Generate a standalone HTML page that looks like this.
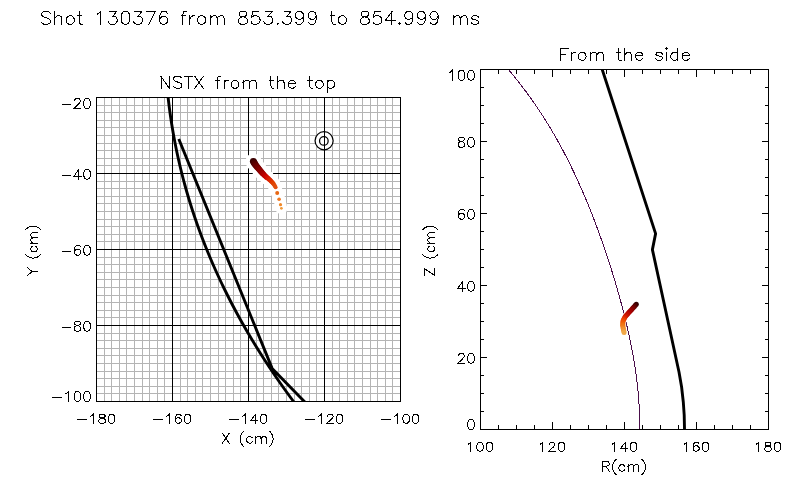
<!DOCTYPE html>
<html><head><meta charset="utf-8"><style>
html,body{margin:0;padding:0;background:#fff;}
svg{display:block;}
</style></head><body>
<svg width="800" height="500" viewBox="0 0 800 500">
<defs><clipPath id="c1"><rect x="96" y="97" width="305" height="305"/></clipPath><clipPath id="c2"><rect x="480" y="69" width="289" height="361"/></clipPath></defs>
<rect width="800" height="500" fill="#fff"/>
<path d="M104.5 97V402M96 393.5H401M111.5 97V402M96 386.5H401M119.5 97V402M96 378.5H401M126.5 97V402M96 371.5H401M134.5 97V402M96 363.5H401M142.5 97V402M96 355.5H401M149.5 97V402M96 348.5H401M157.5 97V402M96 340.5H401M164.5 97V402M96 333.5H401M180.5 97V402M96 317.5H401M187.5 97V402M96 310.5H401M195.5 97V402M96 302.5H401M202.5 97V402M96 295.5H401M210.5 97V402M96 287.5H401M218.5 97V402M96 279.5H401M225.5 97V402M96 272.5H401M233.5 97V402M96 264.5H401M240.5 97V402M96 257.5H401M256.5 97V402M96 241.5H401M263.5 97V402M96 234.5H401M271.5 97V402M96 226.5H401M278.5 97V402M96 219.5H401M286.5 97V402M96 211.5H401M294.5 97V402M96 203.5H401M301.5 97V402M96 196.5H401M309.5 97V402M96 188.5H401M316.5 97V402M96 181.5H401M332.5 97V402M96 165.5H401M339.5 97V402M96 158.5H401M347.5 97V402M96 150.5H401M354.5 97V402M96 143.5H401M362.5 97V402M96 135.5H401M370.5 97V402M96 127.5H401M377.5 97V402M96 120.5H401M385.5 97V402M96 112.5H401M392.5 97V402M96 105.5H401" stroke="#b4b4b4" stroke-width="1" fill="none" shape-rendering="crispEdges"/>
<circle cx="324.1" cy="140.75" r="9.05" fill="#fff" stroke="#000" stroke-width="1.25"/>
<circle cx="323.85" cy="140.9" r="4.3" fill="none" stroke="#000" stroke-width="1.25"/>
<path d="M172.5 97V402M248.5 97V402M324.5 97V402M96 173.5H401M96 249.5H401M96 325.5H401" stroke="#000" stroke-width="1" fill="none" shape-rendering="crispEdges"/>
<g fill="#fff"><circle cx="253.3" cy="161.3" r="7.9"/><circle cx="253.96" cy="162.39" r="7.85"/><circle cx="254.61" cy="163.48" r="7.8"/><circle cx="255.27" cy="164.58" r="7.74"/><circle cx="256.05" cy="165.58" r="7.69"/><circle cx="256.86" cy="166.56" r="7.64"/><circle cx="257.67" cy="167.54" r="7.59"/><circle cx="258.49" cy="168.52" r="7.54"/><circle cx="259.3" cy="169.5" r="7.49"/><circle cx="260.11" cy="170.48" r="7.43"/><circle cx="260.93" cy="171.46" r="7.38"/><circle cx="261.74" cy="172.44" r="7.33"/><circle cx="262.59" cy="173.39" r="7.28"/><circle cx="263.49" cy="174.29" r="7.23"/><circle cx="264.39" cy="175.19" r="7.17"/><circle cx="265.29" cy="176.09" r="7.12"/><circle cx="266.25" cy="176.94" r="7.07"/><circle cx="267.23" cy="177.75" r="7.02"/><circle cx="268.21" cy="178.56" r="6.97"/><circle cx="269.19" cy="179.38" r="6.91"/><circle cx="270.13" cy="180.23" r="6.86"/><circle cx="271.03" cy="181.13" r="6.81"/><circle cx="271.93" cy="182.03" r="6.76"/><circle cx="272.83" cy="182.93" r="6.71"/><circle cx="273.57" cy="183.96" r="6.66"/><circle cx="274.25" cy="185.04" r="6.6"/><circle cx="274.92" cy="186.12" r="6.55"/><circle cx="275.6" cy="187.2" r="6.5"/><circle cx="277.2" cy="192.9" r="6.5"/><circle cx="279.1" cy="199.3" r="6.3"/><circle cx="280.5" cy="204.7" r="6.1"/><circle cx="281.4" cy="208.3" r="5.9"/></g>
<g><circle cx="253.3" cy="161.3" r="3.4" fill="#380000"/><circle cx="253.96" cy="162.39" r="3.35" fill="#420000"/><circle cx="254.61" cy="163.48" r="3.3" fill="#4c0000"/><circle cx="255.27" cy="164.58" r="3.24" fill="#560000"/><circle cx="256.05" cy="165.58" r="3.19" fill="#600000"/><circle cx="256.86" cy="166.56" r="3.14" fill="#680000"/><circle cx="257.67" cy="167.54" r="3.09" fill="#700000"/><circle cx="258.49" cy="168.52" r="3.04" fill="#780000"/><circle cx="259.3" cy="169.5" r="2.99" fill="#800000"/><circle cx="260.11" cy="170.48" r="2.93" fill="#880000"/><circle cx="260.93" cy="171.46" r="2.88" fill="#900000"/><circle cx="261.74" cy="172.44" r="2.83" fill="#980000"/><circle cx="262.59" cy="173.39" r="2.78" fill="#a00000"/><circle cx="263.49" cy="174.29" r="2.73" fill="#ab0000"/><circle cx="264.39" cy="175.19" r="2.67" fill="#b60000"/><circle cx="265.29" cy="176.09" r="2.62" fill="#c10000"/><circle cx="266.25" cy="176.94" r="2.57" fill="#ca0300"/><circle cx="267.23" cy="177.75" r="2.52" fill="#cf0b00"/><circle cx="268.21" cy="178.56" r="2.47" fill="#d41300"/><circle cx="269.19" cy="179.38" r="2.41" fill="#d91b00"/><circle cx="270.13" cy="180.23" r="2.36" fill="#dc2300"/><circle cx="271.03" cy="181.13" r="2.31" fill="#dd2c00"/><circle cx="271.93" cy="182.03" r="2.26" fill="#df3500"/><circle cx="272.83" cy="182.93" r="2.21" fill="#e03e00"/><circle cx="273.57" cy="183.96" r="2.16" fill="#e04303"/><circle cx="274.25" cy="185.04" r="2.1" fill="#e04707"/><circle cx="274.92" cy="186.12" r="2.05" fill="#e04c0c"/><circle cx="275.6" cy="187.2" r="2" fill="#e05010"/><circle cx="277.2" cy="192.9" r="2" fill="#e86814"/><circle cx="279.1" cy="199.3" r="1.8" fill="#f07820"/><circle cx="280.5" cy="204.7" r="1.6" fill="#f08828"/><circle cx="281.4" cy="208.3" r="1.4" fill="#f09838"/></g>
<path clip-path="url(#c1)" d="M167.54 92 L167.85 95 L168.18 98 L168.52 101 L168.88 104 L169.25 107 L169.65 110 L170.05 113 L170.48 116 L170.92 119 L171.37 122 L171.85 125 L172.34 128 L172.84 131 L173.37 134 L173.91 137 L174.46 140 L175.04 143 L175.63 146 L176.23 149 L176.86 152 L177.5 155 L178.16 158 L178.84 161 L179.53 164 L180.24 167 L180.97 170 L181.71 173 L182.47 176 L183.25 179 L184.05 182 L184.87 185 L185.7 188 L186.55 191 L187.42 194 L188.3 197 L189.21 200 L190.13 203 L191.07 206 L192.02 209 L193 212 L193.99 215 L195.01 218 L196.04 221 L197.08 224 L198.15 227 L199.24 230 L200.34 233 L201.46 236 L202.6 239 L203.76 242 L204.94 245 L206.14 248 L207.35 251 L208.58 254 L209.84 257 L211.11 260 L212.4 263 L213.71 266 L215.04 269 L216.39 272 L217.75 275 L219.14 278 L220.54 281 L221.97 284 L223.41 287 L224.88 290 L226.36 293 L227.86 296 L229.39 299 L230.93 302 L232.49 305 L234.07 308 L235.67 311 L237.29 314 L238.93 317 L240.59 320 L242.27 323 L243.98 326 L245.7 329 L247.44 332 L249.2 335 L250.98 338 L252.78 341 L254.6 344 L256.45 347 L258.31 350 L260.19 353 L262.1 356 L264.02 359 L265.97 362 L267.94 365 L269.92 368 L271.93 371 L273.96 374 L276.01 377 L278.08 380 L280.17 383 L282.29 386 L284.42 389 L286.58 392 L288.75 395 L290.95 398 L293.17 401 L295.41 404M178.78 139 L272.13 368.4 L303.6 400.7 L308.3 405.5" stroke="#000" stroke-width="2.9" fill="none" stroke-linejoin="round"/>
<path d="M96.5 97.5H400.5V401.5H96.5Z" stroke="#000" stroke-width="1" fill="none" shape-rendering="crispEdges"/>
<path clip-path="url(#c2)" d="M503.54 64 L506.17 67 L508.75 70 L511.28 73 L513.77 76 L516.2 79 L518.6 82 L520.94 85 L523.25 88 L525.51 91 L527.73 94 L529.91 97 L532.04 100 L534.15 103 L536.21 106 L538.23 109 L540.22 112 L542.18 115 L544.1 118 L545.99 121 L547.85 124 L549.67 127 L551.46 130 L553.22 133 L554.96 136 L556.66 139 L558.34 142 L559.99 145 L561.61 148 L563.21 151 L564.79 154 L566.33 157 L567.86 160 L569.36 163 L570.84 166 L572.3 169 L573.73 172 L575.15 175 L576.54 178 L577.92 181 L579.27 184 L580.61 187 L581.93 190 L583.23 193 L584.51 196 L585.78 199 L587.02 202 L588.26 205 L589.47 208 L590.68 211 L591.86 214 L593.03 217 L594.19 220 L595.33 223 L596.46 226 L597.58 229 L598.68 232 L599.77 235 L600.84 238 L601.9 241 L602.95 244 L603.99 247 L605.01 250 L606.03 253 L607.03 256 L608.01 259 L608.99 262 L609.95 265 L610.91 268 L611.85 271 L612.78 274 L613.69 277 L614.6 280 L615.49 283 L616.37 286 L617.24 289 L618.1 292 L618.94 295 L619.77 298 L620.59 301 L621.4 304 L622.19 307 L622.97 310 L623.74 313 L624.5 316 L625.24 319 L625.96 322 L626.67 325 L627.37 328 L628.06 331 L628.72 334 L629.38 337 L630.01 340 L630.64 343 L631.24 346 L631.83 349 L632.4 352 L632.95 355 L633.48 358 L634 361 L634.5 364 L634.97 367 L635.43 370 L635.86 373 L636.28 376 L636.67 379 L637.04 382 L637.39 385 L637.71 388 L638.01 391 L638.29 394 L638.54 397 L638.76 400 L638.95 403 L639.12 406 L639.26 409 L639.37 412 L639.45 415 L639.51 418 L639.52 421 L639.51 424 L639.46 427 L639.38 430 L639.27 433" stroke="#4a0e4a" stroke-width="1" fill="none" shape-rendering="crispEdges"/>
<g fill="#fff"><circle cx="636.3" cy="304.3" r="3.3"/><circle cx="635.33" cy="305.36" r="3.3"/><circle cx="634.37" cy="306.43" r="3.3"/><circle cx="633.4" cy="307.49" r="3.3"/><circle cx="632.44" cy="308.56" r="3.3"/><circle cx="631.48" cy="309.63" r="3.3"/><circle cx="630.51" cy="310.7" r="3.3"/><circle cx="629.55" cy="311.76" r="3.3"/><circle cx="628.59" cy="312.83" r="3.3"/><circle cx="627.61" cy="313.89" r="3.3"/><circle cx="626.64" cy="314.94" r="3.3"/><circle cx="625.66" cy="316" r="3.3"/><circle cx="624.86" cy="317.18" r="3.3"/><circle cx="624.22" cy="318.46" r="3.3"/><circle cx="623.58" cy="319.75" r="3.3"/><circle cx="622.99" cy="321.05" r="3.3"/><circle cx="622.89" cy="322.48" r="3.3"/><circle cx="622.79" cy="323.92" r="3.3"/><circle cx="622.72" cy="325.35" r="3.3"/><circle cx="622.96" cy="326.77" r="3.3"/><circle cx="623.19" cy="328.19" r="3.3"/><circle cx="623.43" cy="329.61" r="3.3"/><circle cx="623.76" cy="331" r="3.3"/><circle cx="624.1" cy="332.4" r="3.3"/></g>
<g><circle cx="636.3" cy="304.3" r="2.5" fill="#300000"/><circle cx="635.33" cy="305.36" r="2.5" fill="#440000"/><circle cx="634.37" cy="306.43" r="2.5" fill="#580000"/><circle cx="633.4" cy="307.49" r="2.5" fill="#6b0000"/><circle cx="632.44" cy="308.56" r="2.5" fill="#7f0000"/><circle cx="631.48" cy="309.63" r="2.5" fill="#8c0000"/><circle cx="630.51" cy="310.7" r="2.5" fill="#990000"/><circle cx="629.55" cy="311.76" r="2.5" fill="#a60000"/><circle cx="628.59" cy="312.83" r="2.5" fill="#b20100"/><circle cx="627.61" cy="313.89" r="2.5" fill="#bb0800"/><circle cx="626.64" cy="314.94" r="2.5" fill="#c30e00"/><circle cx="625.66" cy="316" r="2.5" fill="#cc1500"/><circle cx="624.86" cy="317.18" r="2.5" fill="#d51f00"/><circle cx="624.22" cy="318.46" r="2.5" fill="#de2d00"/><circle cx="623.58" cy="319.75" r="2.5" fill="#e83b00"/><circle cx="622.99" cy="321.05" r="2.5" fill="#f04900"/><circle cx="622.89" cy="322.48" r="2.5" fill="#f05706"/><circle cx="622.79" cy="323.92" r="2.5" fill="#f0640b"/><circle cx="622.72" cy="325.35" r="2.5" fill="#f07111"/><circle cx="622.96" cy="326.77" r="2.5" fill="#f07b1b"/><circle cx="623.19" cy="328.19" r="2.5" fill="#f08626"/><circle cx="623.43" cy="329.61" r="2.5" fill="#f09131"/><circle cx="623.76" cy="331" r="2.5" fill="#f09c3c"/><circle cx="624.1" cy="332.4" r="2.5" fill="#f0a848"/></g>
<path clip-path="url(#c2)" d="M599.11 60 L655.6 233.6 L652.4 249.6 L679 372 L681.6 387 L683.3 402 L684.2 415 L684.5 429 L684.5 436" stroke="#000" stroke-width="2.9" fill="none" stroke-linejoin="round"/>
<path d="M480.5 69.5H768.5V429.5H480.5ZM498.5 425V429M498.5 70V74M516.5 425V429M516.5 70V74M534.5 425V429M534.5 70V74M552.5 422V429M552.5 70V77M570.5 425V429M570.5 70V74M588.5 425V429M588.5 70V74M606.5 425V429M606.5 70V74M624.5 422V429M624.5 70V77M642.5 425V429M642.5 70V74M660.5 425V429M660.5 70V74M678.5 425V429M678.5 70V74M696.5 422V429M696.5 70V77M714.5 425V429M714.5 70V74M732.5 425V429M732.5 70V74M750.5 425V429M750.5 70V74M481 411.5H484M765 411.5H768M481 393.5H484M765 393.5H768M481 375.5H484M765 375.5H768M481 357.5H487M762 357.5H768M481 339.5H484M765 339.5H768M481 321.5H484M765 321.5H768M481 303.5H484M765 303.5H768M481 285.5H487M762 285.5H768M481 267.5H484M765 267.5H768M481 249.5H484M765 249.5H768M481 231.5H484M765 231.5H768M481 213.5H487M762 213.5H768M481 195.5H484M765 195.5H768M481 177.5H484M765 177.5H768M481 159.5H484M765 159.5H768M481 141.5H487M762 141.5H768M481 123.5H484M765 123.5H768M481 105.5H484M765 105.5H768M481 87.5H484M765 87.5H768" stroke="#000" stroke-width="1" fill="none" shape-rendering="crispEdges"/>
<path d="M50.35 13.26 L49.08 12.02 L47.19 11.4 L44.66 11.4 L42.77 12.02 L41.5 13.26 L41.5 14.5 L42.14 15.73 L42.77 16.35 L44.03 16.97 L47.82 18.21 L49.08 18.83 L49.71 19.45 L50.35 20.69 L50.35 22.54 L49.08 23.78 L47.19 24.4 L44.66 24.4 L42.77 23.78 L41.5 22.54M54.77 11.4 L54.77 24.4M54.77 18.21 L56.66 16.35 L57.92 15.73 L59.82 15.73 L61.08 16.35 L61.71 18.21 L61.71 24.4M69.29 15.73 L68.03 16.35 L66.76 17.59 L66.13 19.45 L66.13 20.69 L66.76 22.54 L68.03 23.78 L69.29 24.4 L71.19 24.4 L72.45 23.78 L73.71 22.54 L74.34 20.69 L74.34 19.45 L73.71 17.59 L72.45 16.35 L71.19 15.73 L69.29 15.73M79.39 11.4 L79.39 21.92 L80.03 23.78 L81.29 24.4 L82.55 24.4M77.5 15.73 L81.92 15.73M97.71 13.88 L98.97 13.26 L100.87 11.4 L100.87 24.4M109.71 11.4 L116.65 11.4 L112.86 16.35 L114.76 16.35 L116.02 16.97 L116.65 17.59 L117.28 19.45 L117.28 20.69 L116.65 22.54 L115.39 23.78 L113.5 24.4 L111.6 24.4 L109.71 23.78 L109.07 23.16 L108.44 21.92M124.86 11.4 L122.97 12.02 L121.7 13.88 L121.07 16.97 L121.07 18.83 L121.7 21.92 L122.97 23.78 L124.86 24.4 L126.13 24.4 L128.02 23.78 L129.28 21.92 L129.91 18.83 L129.91 16.97 L129.28 13.88 L128.02 12.02 L126.13 11.4 L124.86 11.4M134.97 11.4 L141.91 11.4 L138.12 16.35 L140.02 16.35 L141.28 16.97 L141.91 17.59 L142.54 19.45 L142.54 20.69 L141.91 22.54 L140.65 23.78 L138.76 24.4 L136.86 24.4 L134.97 23.78 L134.33 23.16 L133.7 21.92M155.17 11.4 L148.86 24.4M146.33 11.4 L155.17 11.4M167.17 13.26 L166.54 12.02 L164.65 11.4 L163.38 11.4 L161.49 12.02 L160.23 13.88 L159.59 16.97 L159.59 20.07 L160.23 22.54 L161.49 23.78 L163.38 24.4 L164.02 24.4 L165.91 23.78 L167.17 22.54 L167.8 20.69 L167.8 20.07 L167.17 18.21 L165.91 16.97 L164.02 16.35 L163.38 16.35 L161.49 16.97 L160.23 18.21 L159.59 20.07M186.12 11.4 L184.85 11.4 L183.59 12.02 L182.96 13.88 L182.96 24.4M181.07 15.73 L185.49 15.73M189.91 15.73 L189.91 24.4M189.91 19.45 L190.54 17.59 L191.8 16.35 L193.06 15.73 L194.96 15.73M200.64 15.73 L199.38 16.35 L198.12 17.59 L197.49 19.45 L197.49 20.69 L198.12 22.54 L199.38 23.78 L200.64 24.4 L202.54 24.4 L203.8 23.78 L205.06 22.54 L205.69 20.69 L205.69 19.45 L205.06 17.59 L203.8 16.35 L202.54 15.73 L200.64 15.73M210.12 15.73 L210.12 24.4M210.12 18.21 L212.01 16.35 L213.27 15.73 L215.17 15.73 L216.43 16.35 L217.06 18.21 L217.06 24.4M217.06 18.21 L218.96 16.35 L220.22 15.73 L222.11 15.73 L223.38 16.35 L224.01 18.21 L224.01 24.4M241.69 11.4 L239.8 12.02 L239.16 13.26 L239.16 14.5 L239.8 15.73 L241.06 16.35 L243.58 16.97 L245.48 17.59 L246.74 18.83 L247.37 20.07 L247.37 21.92 L246.74 23.16 L246.11 23.78 L244.22 24.4 L241.69 24.4 L239.8 23.78 L239.16 23.16 L238.53 21.92 L238.53 20.07 L239.16 18.83 L240.43 17.59 L242.32 16.97 L244.85 16.35 L246.11 15.73 L246.74 14.5 L246.74 13.26 L246.11 12.02 L244.22 11.4 L241.69 11.4M258.74 11.4 L252.43 11.4 L251.79 16.97 L252.43 16.35 L254.32 15.73 L256.21 15.73 L258.11 16.35 L259.37 17.59 L260 19.45 L260 20.69 L259.37 22.54 L258.11 23.78 L256.21 24.4 L254.32 24.4 L252.43 23.78 L251.79 23.16 L251.16 21.92M265.06 11.4 L272 11.4 L268.21 16.35 L270.11 16.35 L271.37 16.97 L272 17.59 L272.63 19.45 L272.63 20.69 L272 22.54 L270.74 23.78 L268.84 24.4 L266.95 24.4 L265.06 23.78 L264.42 23.16 L263.79 21.92M277.69 23.16 L277.05 23.78 L277.69 24.4 L278.32 23.78 L277.69 23.16M284 11.4 L290.95 11.4 L287.16 16.35 L289.05 16.35 L290.32 16.97 L290.95 17.59 L291.58 19.45 L291.58 20.69 L290.95 22.54 L289.68 23.78 L287.79 24.4 L285.89 24.4 L284 23.78 L283.37 23.16 L282.74 21.92M303.58 15.73 L302.95 17.59 L301.68 18.83 L299.79 19.45 L299.16 19.45 L297.26 18.83 L296 17.59 L295.37 15.73 L295.37 15.12 L296 13.26 L297.26 12.02 L299.16 11.4 L299.79 11.4 L301.68 12.02 L302.95 13.26 L303.58 15.73 L303.58 18.83 L302.95 21.92 L301.68 23.78 L299.79 24.4 L298.52 24.4 L296.63 23.78 L296 22.54M316.21 15.73 L315.58 17.59 L314.31 18.83 L312.42 19.45 L311.79 19.45 L309.89 18.83 L308.63 17.59 L308 15.73 L308 15.12 L308.63 13.26 L309.89 12.02 L311.79 11.4 L312.42 11.4 L314.31 12.02 L315.58 13.26 L316.21 15.73 L316.21 18.83 L315.58 21.92 L314.31 23.78 L312.42 24.4 L311.15 24.4 L309.26 23.78 L308.63 22.54M331.99 11.4 L331.99 21.92 L332.63 23.78 L333.89 24.4 L335.15 24.4M330.1 15.73 L334.52 15.73M341.47 15.73 L340.2 16.35 L338.94 17.59 L338.31 19.45 L338.31 20.69 L338.94 22.54 L340.2 23.78 L341.47 24.4 L343.36 24.4 L344.62 23.78 L345.89 22.54 L346.52 20.69 L346.52 19.45 L345.89 17.59 L344.62 16.35 L343.36 15.73 L341.47 15.73M363.57 11.4 L361.68 12.02 L361.04 13.26 L361.04 14.5 L361.68 15.73 L362.94 16.35 L365.46 16.97 L367.36 17.59 L368.62 18.83 L369.25 20.07 L369.25 21.92 L368.62 23.16 L367.99 23.78 L366.1 24.4 L363.57 24.4 L361.68 23.78 L361.04 23.16 L360.41 21.92 L360.41 20.07 L361.04 18.83 L362.31 17.59 L364.2 16.97 L366.73 16.35 L367.99 15.73 L368.62 14.5 L368.62 13.26 L367.99 12.02 L366.1 11.4 L363.57 11.4M380.62 11.4 L374.31 11.4 L373.67 16.97 L374.31 16.35 L376.2 15.73 L378.09 15.73 L379.99 16.35 L381.25 17.59 L381.88 19.45 L381.88 20.69 L381.25 22.54 L379.99 23.78 L378.09 24.4 L376.2 24.4 L374.31 23.78 L373.67 23.16 L373.04 21.92M391.99 11.4 L385.67 20.07 L395.14 20.07M391.99 11.4 L391.99 24.4M399.56 23.16 L398.93 23.78 L399.56 24.4 L400.2 23.78 L399.56 23.16M412.83 15.73 L412.19 17.59 L410.93 18.83 L409.04 19.45 L408.41 19.45 L406.51 18.83 L405.25 17.59 L404.62 15.73 L404.62 15.12 L405.25 13.26 L406.51 12.02 L408.41 11.4 L409.04 11.4 L410.93 12.02 L412.19 13.26 L412.83 15.73 L412.83 18.83 L412.19 21.92 L410.93 23.78 L409.04 24.4 L407.77 24.4 L405.88 23.78 L405.25 22.54M425.46 15.73 L424.82 17.59 L423.56 18.83 L421.67 19.45 L421.04 19.45 L419.14 18.83 L417.88 17.59 L417.25 15.73 L417.25 15.12 L417.88 13.26 L419.14 12.02 L421.04 11.4 L421.67 11.4 L423.56 12.02 L424.82 13.26 L425.46 15.73 L425.46 18.83 L424.82 21.92 L423.56 23.78 L421.67 24.4 L420.4 24.4 L418.51 23.78 L417.88 22.54M438.09 15.73 L437.45 17.59 L436.19 18.83 L434.3 19.45 L433.67 19.45 L431.77 18.83 L430.51 17.59 L429.88 15.73 L429.88 15.12 L430.51 13.26 L431.77 12.02 L433.67 11.4 L434.3 11.4 L436.19 12.02 L437.45 13.26 L438.09 15.73 L438.09 18.83 L437.45 21.92 L436.19 23.78 L434.3 24.4 L433.03 24.4 L431.14 23.78 L430.51 22.54M453.24 15.73 L453.24 24.4M453.24 18.21 L455.14 16.35 L456.4 15.73 L458.29 15.73 L459.56 16.35 L460.19 18.21 L460.19 24.4M460.19 18.21 L462.08 16.35 L463.35 15.73 L465.24 15.73 L466.5 16.35 L467.14 18.21 L467.14 24.4M478.5 17.59 L477.87 16.35 L475.98 15.73 L474.08 15.73 L472.19 16.35 L471.56 17.59 L472.19 18.83 L473.45 19.45 L476.61 20.07 L477.87 20.69 L478.5 21.92 L478.5 22.54 L477.87 23.78 L475.98 24.4 L474.08 24.4 L472.19 23.78 L471.56 22.54M161 76.4 L161 88.25M161 76.4 L169.32 88.25M169.32 76.4 L169.32 88.25M181.81 78.09 L180.62 76.97 L178.83 76.4 L176.46 76.4 L174.67 76.97 L173.48 78.09 L173.48 79.22 L174.08 80.35 L174.67 80.91 L175.86 81.48 L179.43 82.61 L180.62 83.17 L181.21 83.73 L181.81 84.86 L181.81 86.55 L180.62 87.68 L178.83 88.25 L176.46 88.25 L174.67 87.68 L173.48 86.55M188.34 76.4 L188.34 88.25M184.18 76.4 L192.51 76.4M194.88 76.4 L203.21 88.25M203.21 76.4 L194.88 88.25M220.45 76.4 L219.26 76.4 L218.07 76.97 L217.48 78.66 L217.48 88.25M215.69 80.35 L219.85 80.35M224.02 80.35 L224.02 88.25M224.02 83.73 L224.61 82.04 L225.8 80.91 L226.99 80.35 L228.77 80.35M234.12 80.35 L232.93 80.91 L231.74 82.04 L231.15 83.73 L231.15 84.86 L231.74 86.55 L232.93 87.68 L234.12 88.25 L235.91 88.25 L237.09 87.68 L238.28 86.55 L238.88 84.86 L238.88 83.73 L238.28 82.04 L237.09 80.91 L235.91 80.35 L234.12 80.35M243.04 80.35 L243.04 88.25M243.04 82.61 L244.82 80.91 L246.01 80.35 L247.8 80.35 L248.98 80.91 L249.58 82.61 L249.58 88.25M249.58 82.61 L251.36 80.91 L252.55 80.35 L254.33 80.35 L255.52 80.91 L256.12 82.61 L256.12 88.25M270.98 76.4 L270.98 85.99 L271.58 87.68 L272.76 88.25 L273.95 88.25M269.2 80.35 L273.36 80.35M277.52 76.4 L277.52 88.25M277.52 82.61 L279.3 80.91 L280.49 80.35 L282.28 80.35 L283.47 80.91 L284.06 82.61 L284.06 88.25M288.22 83.73 L295.36 83.73 L295.36 82.61 L294.76 81.48 L294.17 80.91 L292.98 80.35 L291.19 80.35 L290 80.91 L288.82 82.04 L288.22 83.73 L288.22 84.86 L288.82 86.55 L290 87.68 L291.19 88.25 L292.98 88.25 L294.17 87.68 L295.36 86.55M309.62 76.4 L309.62 85.99 L310.22 87.68 L311.41 88.25 L312.6 88.25M307.84 80.35 L312 80.35M318.54 80.35 L317.35 80.91 L316.16 82.04 L315.57 83.73 L315.57 84.86 L316.16 86.55 L317.35 87.68 L318.54 88.25 L320.32 88.25 L321.51 87.68 L322.7 86.55 L323.3 84.86 L323.3 83.73 L322.7 82.04 L321.51 80.91 L320.32 80.35 L318.54 80.35M327.46 80.35 L327.46 92.19M327.46 82.04 L328.65 80.91 L329.84 80.35 L331.62 80.35 L332.81 80.91 L334 82.04 L334.59 83.73 L334.59 84.86 L334 86.55 L332.81 87.68 L331.62 88.25 L329.84 88.25 L328.65 87.68 L327.46 86.55M560.39 48.4 L560.39 60.3M560.39 48.4 L568.14 48.4M560.39 54.07 L565.16 54.07M571.12 52.37 L571.12 60.3M571.12 55.77 L571.71 54.07 L572.91 52.93 L574.1 52.37 L575.89 52.37M581.26 52.37 L580.06 52.93 L578.87 54.07 L578.27 55.77 L578.27 56.9 L578.87 58.6 L580.06 59.74 L581.26 60.3 L583.04 60.3 L584.24 59.74 L585.43 58.6 L586.03 56.9 L586.03 55.77 L585.43 54.07 L584.24 52.93 L583.04 52.37 L581.26 52.37M590.2 52.37 L590.2 60.3M590.2 54.63 L591.99 52.93 L593.18 52.37 L594.97 52.37 L596.16 52.93 L596.76 54.63 L596.76 60.3M596.76 54.63 L598.55 52.93 L599.74 52.37 L601.53 52.37 L602.72 52.93 L603.32 54.63 L603.32 60.3M618.23 48.4 L618.23 58.04 L618.82 59.74 L620.02 60.3 L621.21 60.3M616.44 52.37 L620.61 52.37M624.79 48.4 L624.79 60.3M624.79 54.63 L626.57 52.93 L627.77 52.37 L629.56 52.37 L630.75 52.93 L631.34 54.63 L631.34 60.3M635.52 55.77 L642.67 55.77 L642.67 54.63 L642.08 53.5 L641.48 52.93 L640.29 52.37 L638.5 52.37 L637.31 52.93 L636.12 54.07 L635.52 55.77 L635.52 56.9 L636.12 58.6 L637.31 59.74 L638.5 60.3 L640.29 60.3 L641.48 59.74 L642.67 58.6M662.35 54.07 L661.76 52.93 L659.97 52.37 L658.18 52.37 L656.39 52.93 L655.79 54.07 L656.39 55.2 L657.58 55.77 L660.56 56.33 L661.76 56.9 L662.35 58.04 L662.35 58.6 L661.76 59.74 L659.97 60.3 L658.18 60.3 L656.39 59.74 L655.79 58.6M665.93 48.4 L666.53 48.96 L667.12 48.4 L666.53 47.83 L665.93 48.4M666.53 52.37 L666.53 60.3M677.86 48.4 L677.86 60.3M677.86 54.07 L676.66 52.93 L675.47 52.37 L673.68 52.37 L672.49 52.93 L671.3 54.07 L670.7 55.77 L670.7 56.9 L671.3 58.6 L672.49 59.74 L673.68 60.3 L675.47 60.3 L676.66 59.74 L677.86 58.6M682.03 55.77 L689.19 55.77 L689.19 54.63 L688.59 53.5 L687.99 52.93 L686.8 52.37 L685.01 52.37 L683.82 52.93 L682.63 54.07 L682.03 55.77 L682.03 56.9 L682.63 58.6 L683.82 59.74 L685.01 60.3 L686.8 60.3 L687.99 59.74 L689.19 58.6M62.02 104.16 L70.69 104.16M74.55 100.87 L74.55 100.4 L75.03 99.46 L75.51 98.99 L76.48 98.52 L78.4 98.52 L79.37 98.99 L79.85 99.46 L80.33 100.4 L80.33 101.34 L79.85 102.28 L78.89 103.69 L74.07 108.39 L80.81 108.39M86.6 98.52 L85.15 98.99 L84.19 100.4 L83.71 102.75 L83.71 104.16 L84.19 106.51 L85.15 107.92 L86.6 108.39 L87.56 108.39 L89.01 107.92 L89.97 106.51 L90.45 104.16 L90.45 102.75 L89.97 100.4 L89.01 98.99 L87.56 98.52 L86.6 98.52M62.02 175.06 L70.69 175.06M78.89 169.42 L74.07 176 L81.3 176M78.89 169.42 L78.89 179.29M86.6 169.42 L85.15 169.89 L84.19 171.3 L83.71 173.65 L83.71 175.06 L84.19 177.41 L85.15 178.82 L86.6 179.29 L87.56 179.29 L89.01 178.82 L89.97 177.41 L90.45 175.06 L90.45 173.65 L89.97 171.3 L89.01 169.89 L87.56 169.42 L86.6 169.42M62.02 251.06 L70.69 251.06M80.33 246.83 L79.85 245.89 L78.4 245.42 L77.44 245.42 L75.99 245.89 L75.03 247.3 L74.55 249.65 L74.55 252 L75.03 253.88 L75.99 254.82 L77.44 255.29 L77.92 255.29 L79.37 254.82 L80.33 253.88 L80.81 252.47 L80.81 252 L80.33 250.59 L79.37 249.65 L77.92 249.18 L77.44 249.18 L75.99 249.65 L75.03 250.59 L74.55 252M86.6 245.42 L85.15 245.89 L84.19 247.3 L83.71 249.65 L83.71 251.06 L84.19 253.41 L85.15 254.82 L86.6 255.29 L87.56 255.29 L89.01 254.82 L89.97 253.41 L90.45 251.06 L90.45 249.65 L89.97 247.3 L89.01 245.89 L87.56 245.42 L86.6 245.42M62.02 327.06 L70.69 327.06M76.48 321.42 L75.03 321.89 L74.55 322.83 L74.55 323.77 L75.03 324.71 L75.99 325.18 L77.92 325.65 L79.37 326.12 L80.33 327.06 L80.81 328 L80.81 329.41 L80.33 330.35 L79.85 330.82 L78.4 331.29 L76.48 331.29 L75.03 330.82 L74.55 330.35 L74.07 329.41 L74.07 328 L74.55 327.06 L75.51 326.12 L76.96 325.65 L78.89 325.18 L79.85 324.71 L80.33 323.77 L80.33 322.83 L79.85 321.89 L78.4 321.42 L76.48 321.42M86.6 321.42 L85.15 321.89 L84.19 323.3 L83.71 325.65 L83.71 327.06 L84.19 329.41 L85.15 330.82 L86.6 331.29 L87.56 331.29 L89.01 330.82 L89.97 329.41 L90.45 327.06 L90.45 325.65 L89.97 323.3 L89.01 321.89 L87.56 321.42 L86.6 321.42M52.38 397.16 L61.05 397.16M65.87 393.4 L66.84 392.93 L68.28 391.52 L68.28 401.39M76.96 391.52 L75.51 391.99 L74.55 393.4 L74.07 395.75 L74.07 397.16 L74.55 399.51 L75.51 400.92 L76.96 401.39 L77.92 401.39 L79.37 400.92 L80.33 399.51 L80.81 397.16 L80.81 395.75 L80.33 393.4 L79.37 391.99 L77.92 391.52 L76.96 391.52M86.6 391.52 L85.15 391.99 L84.19 393.4 L83.71 395.75 L83.71 397.16 L84.19 399.51 L85.15 400.92 L86.6 401.39 L87.56 401.39 L89.01 400.92 L89.97 399.51 L90.45 397.16 L90.45 395.75 L89.97 393.4 L89.01 391.99 L87.56 391.52 L86.6 391.52M77.51 419.43 L86.05 419.43M90.79 416.03 L91.73 415.61 L93.16 414.33 L93.16 423.25M101.21 414.33 L99.79 414.75 L99.32 415.61 L99.32 416.45 L99.79 417.31 L100.74 417.73 L102.64 418.16 L104.06 418.58 L105.01 419.43 L105.48 420.28 L105.48 421.56 L105.01 422.41 L104.53 422.83 L103.11 423.25 L101.21 423.25 L99.79 422.83 L99.32 422.41 L98.84 421.56 L98.84 420.28 L99.32 419.43 L100.27 418.58 L101.69 418.16 L103.58 417.73 L104.53 417.31 L105.01 416.45 L105.01 415.61 L104.53 414.75 L103.11 414.33 L101.21 414.33M111.17 414.33 L109.75 414.75 L108.8 416.03 L108.32 418.16 L108.32 419.43 L108.8 421.56 L109.75 422.83 L111.17 423.25 L112.12 423.25 L113.54 422.83 L114.49 421.56 L114.96 419.43 L114.96 418.16 L114.49 416.03 L113.54 414.75 L112.12 414.33 L111.17 414.33M153.51 419.43 L162.05 419.43M166.79 416.03 L167.73 415.61 L169.16 414.33 L169.16 423.25M181.01 415.61 L180.53 414.75 L179.11 414.33 L178.16 414.33 L176.74 414.75 L175.79 416.03 L175.32 418.16 L175.32 420.28 L175.79 421.98 L176.74 422.83 L178.16 423.25 L178.64 423.25 L180.06 422.83 L181.01 421.98 L181.48 420.7 L181.48 420.28 L181.01 419 L180.06 418.16 L178.64 417.73 L178.16 417.73 L176.74 418.16 L175.79 419 L175.32 420.28M187.17 414.33 L185.75 414.75 L184.8 416.03 L184.32 418.16 L184.32 419.43 L184.8 421.56 L185.75 422.83 L187.17 423.25 L188.12 423.25 L189.54 422.83 L190.49 421.56 L190.96 419.43 L190.96 418.16 L190.49 416.03 L189.54 414.75 L188.12 414.33 L187.17 414.33M229.51 419.43 L238.05 419.43M242.79 416.03 L243.73 415.61 L245.16 414.33 L245.16 423.25M255.58 414.33 L250.84 420.28 L257.95 420.28M255.58 414.33 L255.58 423.25M263.17 414.33 L261.75 414.75 L260.8 416.03 L260.32 418.16 L260.32 419.43 L260.8 421.56 L261.75 422.83 L263.17 423.25 L264.12 423.25 L265.54 422.83 L266.49 421.56 L266.96 419.43 L266.96 418.16 L266.49 416.03 L265.54 414.75 L264.12 414.33 L263.17 414.33M305.51 419.43 L314.05 419.43M318.79 416.03 L319.73 415.61 L321.16 414.33 L321.16 423.25M327.32 416.45 L327.32 416.03 L327.79 415.18 L328.27 414.75 L329.21 414.33 L331.11 414.33 L332.06 414.75 L332.53 415.18 L333.01 416.03 L333.01 416.88 L332.53 417.73 L331.58 419 L326.84 423.25 L333.48 423.25M339.17 414.33 L337.75 414.75 L336.8 416.03 L336.32 418.16 L336.32 419.43 L336.8 421.56 L337.75 422.83 L339.17 423.25 L340.12 423.25 L341.54 422.83 L342.49 421.56 L342.96 419.43 L342.96 418.16 L342.49 416.03 L341.54 414.75 L340.12 414.33 L339.17 414.33M381.51 419.43 L390.05 419.43M394.79 416.03 L395.73 415.61 L397.16 414.33 L397.16 423.25M405.69 414.33 L404.27 414.75 L403.32 416.03 L402.84 418.16 L402.84 419.43 L403.32 421.56 L404.27 422.83 L405.69 423.25 L406.64 423.25 L408.06 422.83 L409.01 421.56 L409.48 419.43 L409.48 418.16 L409.01 416.03 L408.06 414.75 L406.64 414.33 L405.69 414.33M415.17 414.33 L413.75 414.75 L412.8 416.03 L412.32 418.16 L412.32 419.43 L412.8 421.56 L413.75 422.83 L415.17 423.25 L416.12 423.25 L417.54 422.83 L418.49 421.56 L418.96 419.43 L418.96 418.16 L418.49 416.03 L417.54 414.75 L416.12 414.33 L415.17 414.33M470.54 419.52 L469.09 419.99 L468.13 421.4 L467.65 423.75 L467.65 425.16 L468.13 427.51 L469.09 428.92 L470.54 429.39 L471.5 429.39 L472.95 428.92 L473.91 427.51 L474.39 425.16 L474.39 423.75 L473.91 421.4 L472.95 419.99 L471.5 419.52 L470.54 419.52M458.49 355.77 L458.49 355.3 L458.97 354.36 L459.45 353.89 L460.42 353.42 L462.34 353.42 L463.31 353.89 L463.79 354.36 L464.27 355.3 L464.27 356.24 L463.79 357.18 L462.83 358.59 L458.01 363.29 L464.75 363.29M470.54 353.42 L469.09 353.89 L468.13 355.3 L467.65 357.65 L467.65 359.06 L468.13 361.41 L469.09 362.82 L470.54 363.29 L471.5 363.29 L472.95 362.82 L473.91 361.41 L474.39 359.06 L474.39 357.65 L473.91 355.3 L472.95 353.89 L471.5 353.42 L470.54 353.42M462.83 281.42 L458.01 288 L465.24 288M462.83 281.42 L462.83 291.29M470.54 281.42 L469.09 281.89 L468.13 283.3 L467.65 285.65 L467.65 287.06 L468.13 289.41 L469.09 290.82 L470.54 291.29 L471.5 291.29 L472.95 290.82 L473.91 289.41 L474.39 287.06 L474.39 285.65 L473.91 283.3 L472.95 281.89 L471.5 281.42 L470.54 281.42M464.27 210.83 L463.79 209.89 L462.34 209.42 L461.38 209.42 L459.93 209.89 L458.97 211.3 L458.49 213.65 L458.49 216 L458.97 217.88 L459.93 218.82 L461.38 219.29 L461.86 219.29 L463.31 218.82 L464.27 217.88 L464.75 216.47 L464.75 216 L464.27 214.59 L463.31 213.65 L461.86 213.18 L461.38 213.18 L459.93 213.65 L458.97 214.59 L458.49 216M470.54 209.42 L469.09 209.89 L468.13 211.3 L467.65 213.65 L467.65 215.06 L468.13 217.41 L469.09 218.82 L470.54 219.29 L471.5 219.29 L472.95 218.82 L473.91 217.41 L474.39 215.06 L474.39 213.65 L473.91 211.3 L472.95 209.89 L471.5 209.42 L470.54 209.42M460.42 137.42 L458.97 137.89 L458.49 138.83 L458.49 139.77 L458.97 140.71 L459.93 141.18 L461.86 141.65 L463.31 142.12 L464.27 143.06 L464.75 144 L464.75 145.41 L464.27 146.35 L463.79 146.82 L462.34 147.29 L460.42 147.29 L458.97 146.82 L458.49 146.35 L458.01 145.41 L458.01 144 L458.49 143.06 L459.45 142.12 L460.9 141.65 L462.83 141.18 L463.79 140.71 L464.27 139.77 L464.27 138.83 L463.79 137.89 L462.34 137.42 L460.42 137.42M470.54 137.42 L469.09 137.89 L468.13 139.3 L467.65 141.65 L467.65 143.06 L468.13 145.41 L469.09 146.82 L470.54 147.29 L471.5 147.29 L472.95 146.82 L473.91 145.41 L474.39 143.06 L474.39 141.65 L473.91 139.3 L472.95 137.89 L471.5 137.42 L470.54 137.42M449.81 72.3 L450.78 71.83 L452.22 70.42 L452.22 80.29M460.9 70.42 L459.45 70.89 L458.49 72.3 L458.01 74.65 L458.01 76.06 L458.49 78.41 L459.45 79.82 L460.9 80.29 L461.86 80.29 L463.31 79.82 L464.27 78.41 L464.75 76.06 L464.75 74.65 L464.27 72.3 L463.31 70.89 L461.86 70.42 L460.9 70.42M470.54 70.42 L469.09 70.89 L468.13 72.3 L467.65 74.65 L467.65 76.06 L468.13 78.41 L469.09 79.82 L470.54 80.29 L471.5 80.29 L472.95 79.82 L473.91 78.41 L474.39 76.06 L474.39 74.65 L473.91 72.3 L472.95 70.89 L471.5 70.42 L470.54 70.42M468.62 444 L469.57 443.57 L470.99 442.3 L470.99 451.22M479.53 442.3 L478.1 442.72 L477.16 444 L476.68 446.12 L476.68 447.4 L477.16 449.52 L478.1 450.8 L479.53 451.22 L480.47 451.22 L481.9 450.8 L482.84 449.52 L483.32 447.4 L483.32 446.12 L482.84 444 L481.9 442.72 L480.47 442.3 L479.53 442.3M489.01 442.3 L487.58 442.72 L486.64 444 L486.16 446.12 L486.16 447.4 L486.64 449.52 L487.58 450.8 L489.01 451.22 L489.95 451.22 L491.38 450.8 L492.32 449.52 L492.8 447.4 L492.8 446.12 L492.32 444 L491.38 442.72 L489.95 442.3 L489.01 442.3M540.62 444 L541.57 443.57 L542.99 442.3 L542.99 451.22M549.16 444.42 L549.16 444 L549.63 443.15 L550.1 442.72 L551.05 442.3 L552.95 442.3 L553.9 442.72 L554.37 443.15 L554.84 444 L554.84 444.85 L554.37 445.7 L553.42 446.97 L548.68 451.22 L555.32 451.22M561.01 442.3 L559.58 442.72 L558.64 444 L558.16 446.12 L558.16 447.4 L558.64 449.52 L559.58 450.8 L561.01 451.22 L561.95 451.22 L563.38 450.8 L564.32 449.52 L564.8 447.4 L564.8 446.12 L564.32 444 L563.38 442.72 L561.95 442.3 L561.01 442.3M612.62 444 L613.57 443.57 L614.99 442.3 L614.99 451.22M625.42 442.3 L620.68 448.25 L627.79 448.25M625.42 442.3 L625.42 451.22M633.01 442.3 L631.58 442.72 L630.64 444 L630.16 446.12 L630.16 447.4 L630.64 449.52 L631.58 450.8 L633.01 451.22 L633.95 451.22 L635.38 450.8 L636.32 449.52 L636.8 447.4 L636.8 446.12 L636.32 444 L635.38 442.72 L633.95 442.3 L633.01 442.3M684.62 444 L685.57 443.57 L686.99 442.3 L686.99 451.22M698.84 443.57 L698.37 442.72 L696.95 442.3 L696 442.3 L694.58 442.72 L693.63 444 L693.16 446.12 L693.16 448.25 L693.63 449.95 L694.58 450.8 L696 451.22 L696.47 451.22 L697.9 450.8 L698.84 449.95 L699.32 448.67 L699.32 448.25 L698.84 446.97 L697.9 446.12 L696.47 445.7 L696 445.7 L694.58 446.12 L693.63 446.97 L693.16 448.25M705.01 442.3 L703.58 442.72 L702.64 444 L702.16 446.12 L702.16 447.4 L702.64 449.52 L703.58 450.8 L705.01 451.22 L705.95 451.22 L707.38 450.8 L708.32 449.52 L708.8 447.4 L708.8 446.12 L708.32 444 L707.38 442.72 L705.95 442.3 L705.01 442.3M756.62 444 L757.57 443.57 L758.99 442.3 L758.99 451.22M767.05 442.3 L765.63 442.72 L765.16 443.57 L765.16 444.42 L765.63 445.27 L766.58 445.7 L768.47 446.12 L769.9 446.55 L770.84 447.4 L771.32 448.25 L771.32 449.52 L770.84 450.38 L770.37 450.8 L768.95 451.22 L767.05 451.22 L765.63 450.8 L765.16 450.38 L764.68 449.52 L764.68 448.25 L765.16 447.4 L766.1 446.55 L767.53 446.12 L769.42 445.7 L770.37 445.27 L770.84 444.42 L770.84 443.57 L770.37 442.72 L768.95 442.3 L767.05 442.3M777.01 442.3 L775.58 442.72 L774.64 444 L774.16 446.12 L774.16 447.4 L774.64 449.52 L775.58 450.8 L777.01 451.22 L777.95 451.22 L779.38 450.8 L780.32 449.52 L780.8 447.4 L780.8 446.12 L780.32 444 L779.38 442.72 L777.95 442.3 L777.01 442.3M222.45 433.26 L229.2 443.13M229.2 433.26 L222.45 443.13M243.66 431.38 L242.7 432.32 L241.73 433.73 L240.77 435.61 L240.29 437.96 L240.29 439.84 L240.77 442.19 L241.73 444.07 L242.7 445.48 L243.66 446.42M252.34 437.96 L251.37 437.02 L250.41 436.55 L248.96 436.55 L248 437.02 L247.04 437.96 L246.55 439.37 L246.55 440.31 L247.04 441.72 L248 442.66 L248.96 443.13 L250.41 443.13 L251.37 442.66 L252.34 441.72M255.71 436.55 L255.71 443.13M255.71 438.43 L257.16 437.02 L258.12 436.55 L259.57 436.55 L260.53 437.02 L261.01 438.43 L261.01 443.13M261.01 438.43 L262.46 437.02 L263.42 436.55 L264.87 436.55 L265.83 437.02 L266.32 438.43 L266.32 443.13M269.69 431.38 L270.65 432.32 L271.62 433.73 L272.58 435.61 L273.06 437.96 L273.06 439.84 L272.58 442.19 L271.62 444.07 L270.65 445.48 L269.69 446.42M602.55 461.36 L602.55 471.23M602.55 461.36 L606.89 461.36 L608.34 461.83 L608.82 462.3 L609.3 463.24 L609.3 464.18 L608.82 465.12 L608.34 465.59 L606.89 466.06 L602.55 466.06M605.93 466.06 L609.3 471.23M616.05 459.48 L615.08 460.42 L614.12 461.83 L613.16 463.71 L612.67 466.06 L612.67 467.94 L613.16 470.29 L614.12 472.17 L615.08 473.58 L616.05 474.52M624.72 466.06 L623.76 465.12 L622.8 464.65 L621.35 464.65 L620.38 465.12 L619.42 466.06 L618.94 467.47 L618.94 468.41 L619.42 469.82 L620.38 470.76 L621.35 471.23 L622.8 471.23 L623.76 470.76 L624.72 469.82M628.1 464.65 L628.1 471.23M628.1 466.53 L629.54 465.12 L630.51 464.65 L631.95 464.65 L632.92 465.12 L633.4 466.53 L633.4 471.23M633.4 466.53 L634.85 465.12 L635.81 464.65 L637.25 464.65 L638.22 465.12 L638.7 466.53 L638.7 471.23M642.08 459.48 L643.04 460.42 L644 461.83 L644.97 463.71 L645.45 466.06 L645.45 467.94 L644.97 470.29 L644 472.17 L643.04 473.58 L642.08 474.52M27.47 275.3 L32.14 271.57 L37.27 271.57M27.47 267.83 L32.14 271.57M25.6 254.75 L26.53 255.69 L27.93 256.62 L29.8 257.56 L32.14 258.02 L34 258.02 L36.34 257.56 L38.21 256.62 L39.61 255.69 L40.54 254.75M32.14 246.35 L31.2 247.28 L30.73 248.22 L30.73 249.62 L31.2 250.55 L32.14 251.49 L33.54 251.95 L34.47 251.95 L35.87 251.49 L36.81 250.55 L37.27 249.62 L37.27 248.22 L36.81 247.28 L35.87 246.35M30.73 243.08 L37.27 243.08M32.6 243.08 L31.2 241.68 L30.73 240.74 L30.73 239.34 L31.2 238.41 L32.6 237.94 L37.27 237.94M32.6 237.94 L31.2 236.54 L30.73 235.61 L30.73 234.21 L31.2 233.27 L32.6 232.81 L37.27 232.81M25.6 229.54 L26.53 228.6 L27.93 227.67 L29.8 226.73 L32.14 226.27 L34 226.27 L36.34 226.73 L38.21 227.67 L39.61 228.6 L40.54 229.54M424.67 268.76 L434.47 275.3M424.67 275.3 L424.67 268.76M434.47 275.3 L434.47 268.76M422.8 254.75 L423.73 255.69 L425.13 256.62 L427 257.55 L429.34 258.02 L431.2 258.02 L433.54 257.55 L435.41 256.62 L436.81 255.69 L437.74 254.75M429.34 246.34 L428.4 247.28 L427.94 248.21 L427.94 249.61 L428.4 250.55 L429.34 251.48 L430.74 251.95 L431.67 251.95 L433.07 251.48 L434.01 250.55 L434.47 249.61 L434.47 248.21 L434.01 247.28 L433.07 246.34M427.94 243.08 L434.47 243.08M429.8 243.08 L428.4 241.67 L427.94 240.74 L427.94 239.34 L428.4 238.41 L429.8 237.94 L434.47 237.94M429.8 237.94 L428.4 236.54 L427.94 235.6 L427.94 234.2 L428.4 233.27 L429.8 232.8 L434.47 232.8M422.8 229.53 L423.73 228.6 L425.13 227.66 L427 226.73 L429.34 226.26 L431.2 226.26 L433.54 226.73 L435.41 227.66 L436.81 228.6 L437.74 229.53" stroke="#000" stroke-width="1" fill="none" stroke-linecap="square" stroke-linejoin="miter" shape-rendering="crispEdges"/>
</svg>
</body></html>
